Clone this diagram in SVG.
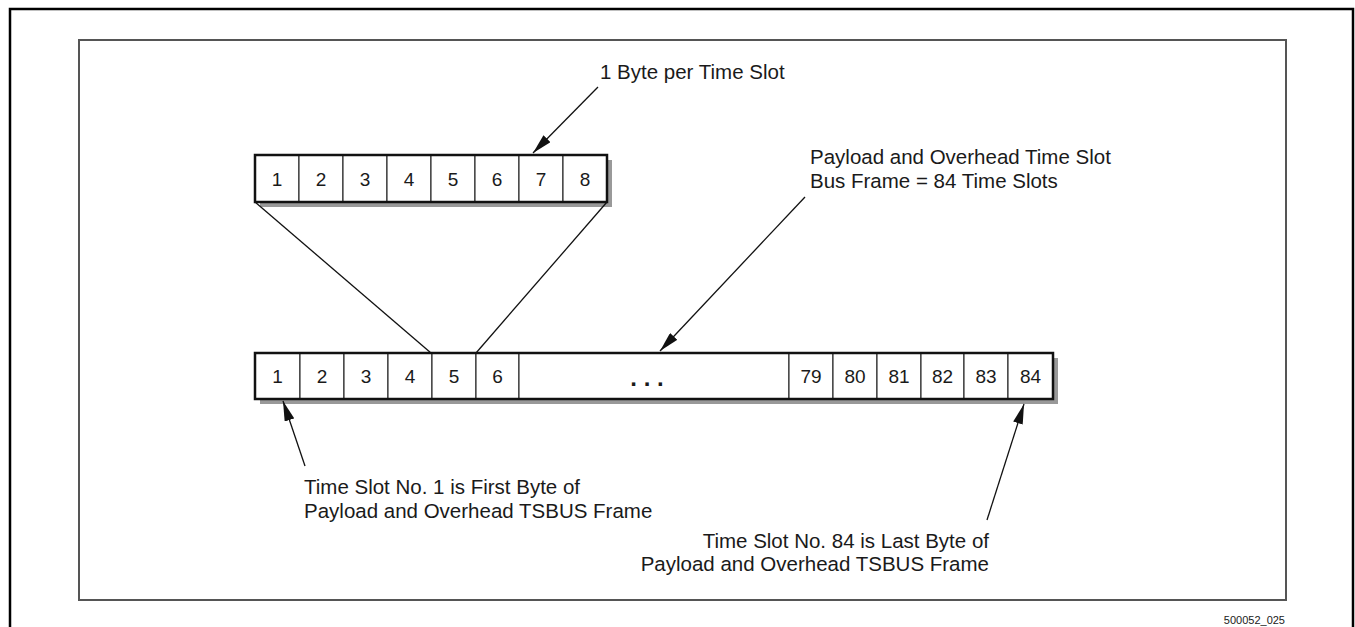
<svg xmlns="http://www.w3.org/2000/svg" width="1355" height="627" viewBox="0 0 1355 627">
<style>
text{font-family:"Liberation Sans",Arial,sans-serif;fill:#1a1a1a}
.lbl{font-size:20.5px}
.dig{font-size:19px;text-anchor:middle}
.cell{fill:#fff;stroke:#111;stroke-width:1}
.outline{fill:none;stroke:#111;stroke-width:2.5}
.shadow{fill:#999}
.conn{stroke:#111;stroke-width:1.3;fill:none}
</style>
<defs>
<marker id="ah" viewBox="0 0 20 10" refX="20" refY="5" markerWidth="20" markerHeight="10" markerUnits="userSpaceOnUse" orient="auto">
<path d="M0,0 L20,5 L0,10 Z" fill="#111"/>
</marker>
</defs>
<rect x="0" y="0" width="1355" height="627" fill="#fff"/>
<rect id="frame" x="10" y="9" width="1343" height="640" fill="none" stroke="#000" stroke-width="2.5"/>
<rect id="panel" x="79" y="40" width="1207" height="560" fill="none" stroke="#555" stroke-width="2"/>
<text x="1285" y="624" font-size="11" text-anchor="end">500052_025</text>

<g id="byte">
<rect class="shadow" x="260" y="160" width="352" height="47"/>
<rect class="cell" x="255" y="155" width="44" height="47"/>
<rect class="cell" x="299" y="155" width="44" height="47"/>
<rect class="cell" x="343" y="155" width="44" height="47"/>
<rect class="cell" x="387" y="155" width="44" height="47"/>
<rect class="cell" x="431" y="155" width="44" height="47"/>
<rect class="cell" x="475" y="155" width="44" height="47"/>
<rect class="cell" x="519" y="155" width="44" height="47"/>
<rect class="cell" x="563" y="155" width="44" height="47"/>
<rect class="outline" x="255" y="155" width="352" height="47"/>
<text class="dig" x="277" y="185.5">1</text>
<text class="dig" x="321" y="185.5">2</text>
<text class="dig" x="365" y="185.5">3</text>
<text class="dig" x="409" y="185.5">4</text>
<text class="dig" x="453" y="185.5">5</text>
<text class="dig" x="497" y="185.5">6</text>
<text class="dig" x="541" y="185.5">7</text>
<text class="dig" x="585" y="185.5">8</text>
</g>

<g id="frame84">
<rect class="shadow" x="260" y="358" width="798" height="46"/>
<rect class="cell" x="255" y="353" width="45" height="46"/>
<rect class="cell" x="300" y="353" width="44" height="46"/>
<rect class="cell" x="344" y="353" width="44" height="46"/>
<rect class="cell" x="388" y="353" width="44" height="46"/>
<rect class="cell" x="432" y="353" width="44" height="46"/>
<rect class="cell" x="476" y="353" width="43" height="46"/>
<rect class="cell" x="519" y="353" width="270" height="46"/>
<rect class="cell" x="789" y="353" width="44" height="46"/>
<rect class="cell" x="833" y="353" width="44" height="46"/>
<rect class="cell" x="877" y="353" width="44" height="46"/>
<rect class="cell" x="921" y="353" width="43" height="46"/>
<rect class="cell" x="964" y="353" width="44" height="46"/>
<rect class="cell" x="1008" y="353" width="45" height="46"/>
<rect class="outline" x="255" y="353" width="798" height="46"/>
<text class="dig" x="277.5" y="383">1</text>
<text class="dig" x="322" y="383">2</text>
<text class="dig" x="366" y="383">3</text>
<text class="dig" x="410" y="383">4</text>
<text class="dig" x="454" y="383">5</text>
<text class="dig" x="497.5" y="383">6</text>
<text x="647" y="386" font-size="24" font-weight="bold" text-anchor="middle">. . .</text>
<text class="dig" x="811" y="383">79</text>
<text class="dig" x="855" y="383">80</text>
<text class="dig" x="899" y="383">81</text>
<text class="dig" x="942.5" y="383">82</text>
<text class="dig" x="986" y="383">83</text>
<text class="dig" x="1030.5" y="383">84</text>
</g>

<g id="lbl-byte"><text class="lbl" x="600" y="79">1 Byte per Time Slot</text></g>
<g id="lbl-payload">
<text class="lbl" x="810" y="164">Payload and Overhead Time Slot</text>
<text class="lbl" x="810" y="188">Bus Frame = 84 Time Slots</text>
</g>
<g id="lbl-first">
<text class="lbl" x="304" y="494">Time Slot No. 1 is First Byte of</text>
<text class="lbl" x="304" y="518">Payload and Overhead TSBUS Frame</text>
</g>
<g id="lbl-last">
<text class="lbl" x="989" y="548" text-anchor="end">Time Slot No. 84 is Last Byte of</text>
<text class="lbl" x="989" y="571" text-anchor="end">Payload and Overhead TSBUS Frame</text>
</g>

<g id="connectors">
<line class="conn" x1="255" y1="202" x2="431" y2="353"/>
<line class="conn" x1="607" y1="202" x2="476" y2="353"/>
<line class="conn" x1="598" y1="87" x2="533" y2="153" marker-end="url(#ah)"/>
<line class="conn" x1="805" y1="197" x2="660" y2="351" marker-end="url(#ah)"/>
<line class="conn" x1="305" y1="466" x2="283" y2="401" marker-end="url(#ah)"/>
<line class="conn" x1="987" y1="520" x2="1024" y2="404" marker-end="url(#ah)"/>
</g>
</svg>
